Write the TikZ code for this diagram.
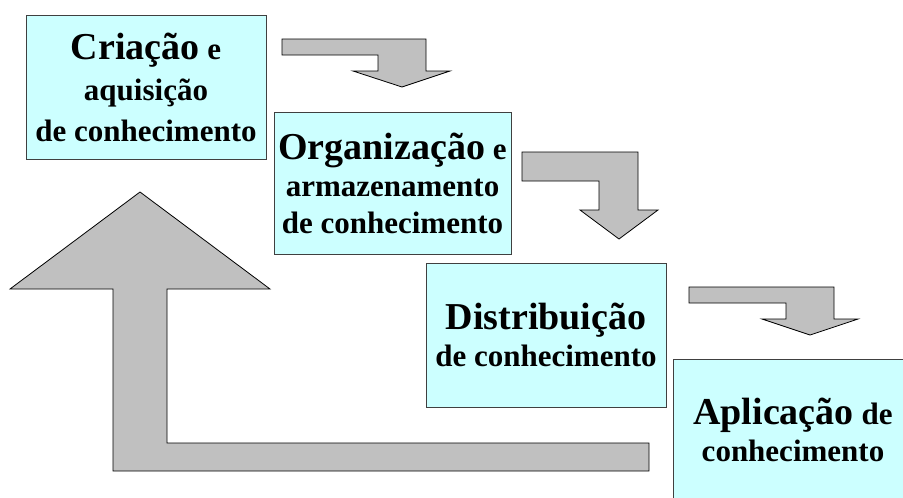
\documentclass[tikz,border=0pt]{standalone}
\usepackage{fontspec}
\setmainfont{Liberation Serif}

\definecolor{caixa}{HTML}{CCFFFF}
\definecolor{cinza}{HTML}{C0C0C0}
\newcommand{\grande}{\fontsize{38}{37}\selectfont}

\tikzset{
  etapa/.style={draw=black!75, line width=0.8pt, fill=caixa, rectangle,
    align=center, inner sep=0pt,
    font=\bfseries\fontsize{31}{37}\selectfont},
  seta/.style={draw=black, line width=0.8pt, fill=cinza, line join=miter}
}

\begin{document}
\begin{tikzpicture}[x=1pt,y=-1pt]
            \useasboundingbox (0,0) rectangle (903,498);

            %arrows
            \draw[seta] (282,39)--(426,39)--(426,71)--(450,71)--(402,87)--(353,71)--(378,71)--(378,55)--(282,55)--cycle;

            \draw[seta] (522,152)--(638,152)--(638,210)--(658,210)--(619,239)--(580,210)--(599,210)--(599,181)--(522,181)--cycle;

            \draw[seta] (689,287)--(834,287)--(834,319)--(858,319)--(810,335)--(762,319)--(786,319)--(786,303)--(689,303)--cycle;

            \draw[seta] (140,192)--(270,289)--(167,289)--(167,443)--(649,443)--(649,471)--(113,471)--(113,289)--(10,289)--cycle;

            %boxes
            \node[etapa, minimum width=240, minimum height=144] (criacao) at (146,87)
              {{\grande Criação} e\\[4pt] aquisição\\[4pt] de conhecimento};

            \node[etapa, minimum width=237, minimum height=142] (organizacao) at (392.5,183)
              {{\grande Organização} e\\ armazenamento\\ de conhecimento};

            \node[etapa, minimum width=240, minimum height=144] (distribuicao) at (546,335)
              {{\grande Distribuição}\\ de conhecimento};

            \node[etapa, minimum width=240, minimum height=142] (aplicacao) at (793,430)
              {{\grande Aplicação} de\\ conhecimento};
\end{tikzpicture}
\end{document}
